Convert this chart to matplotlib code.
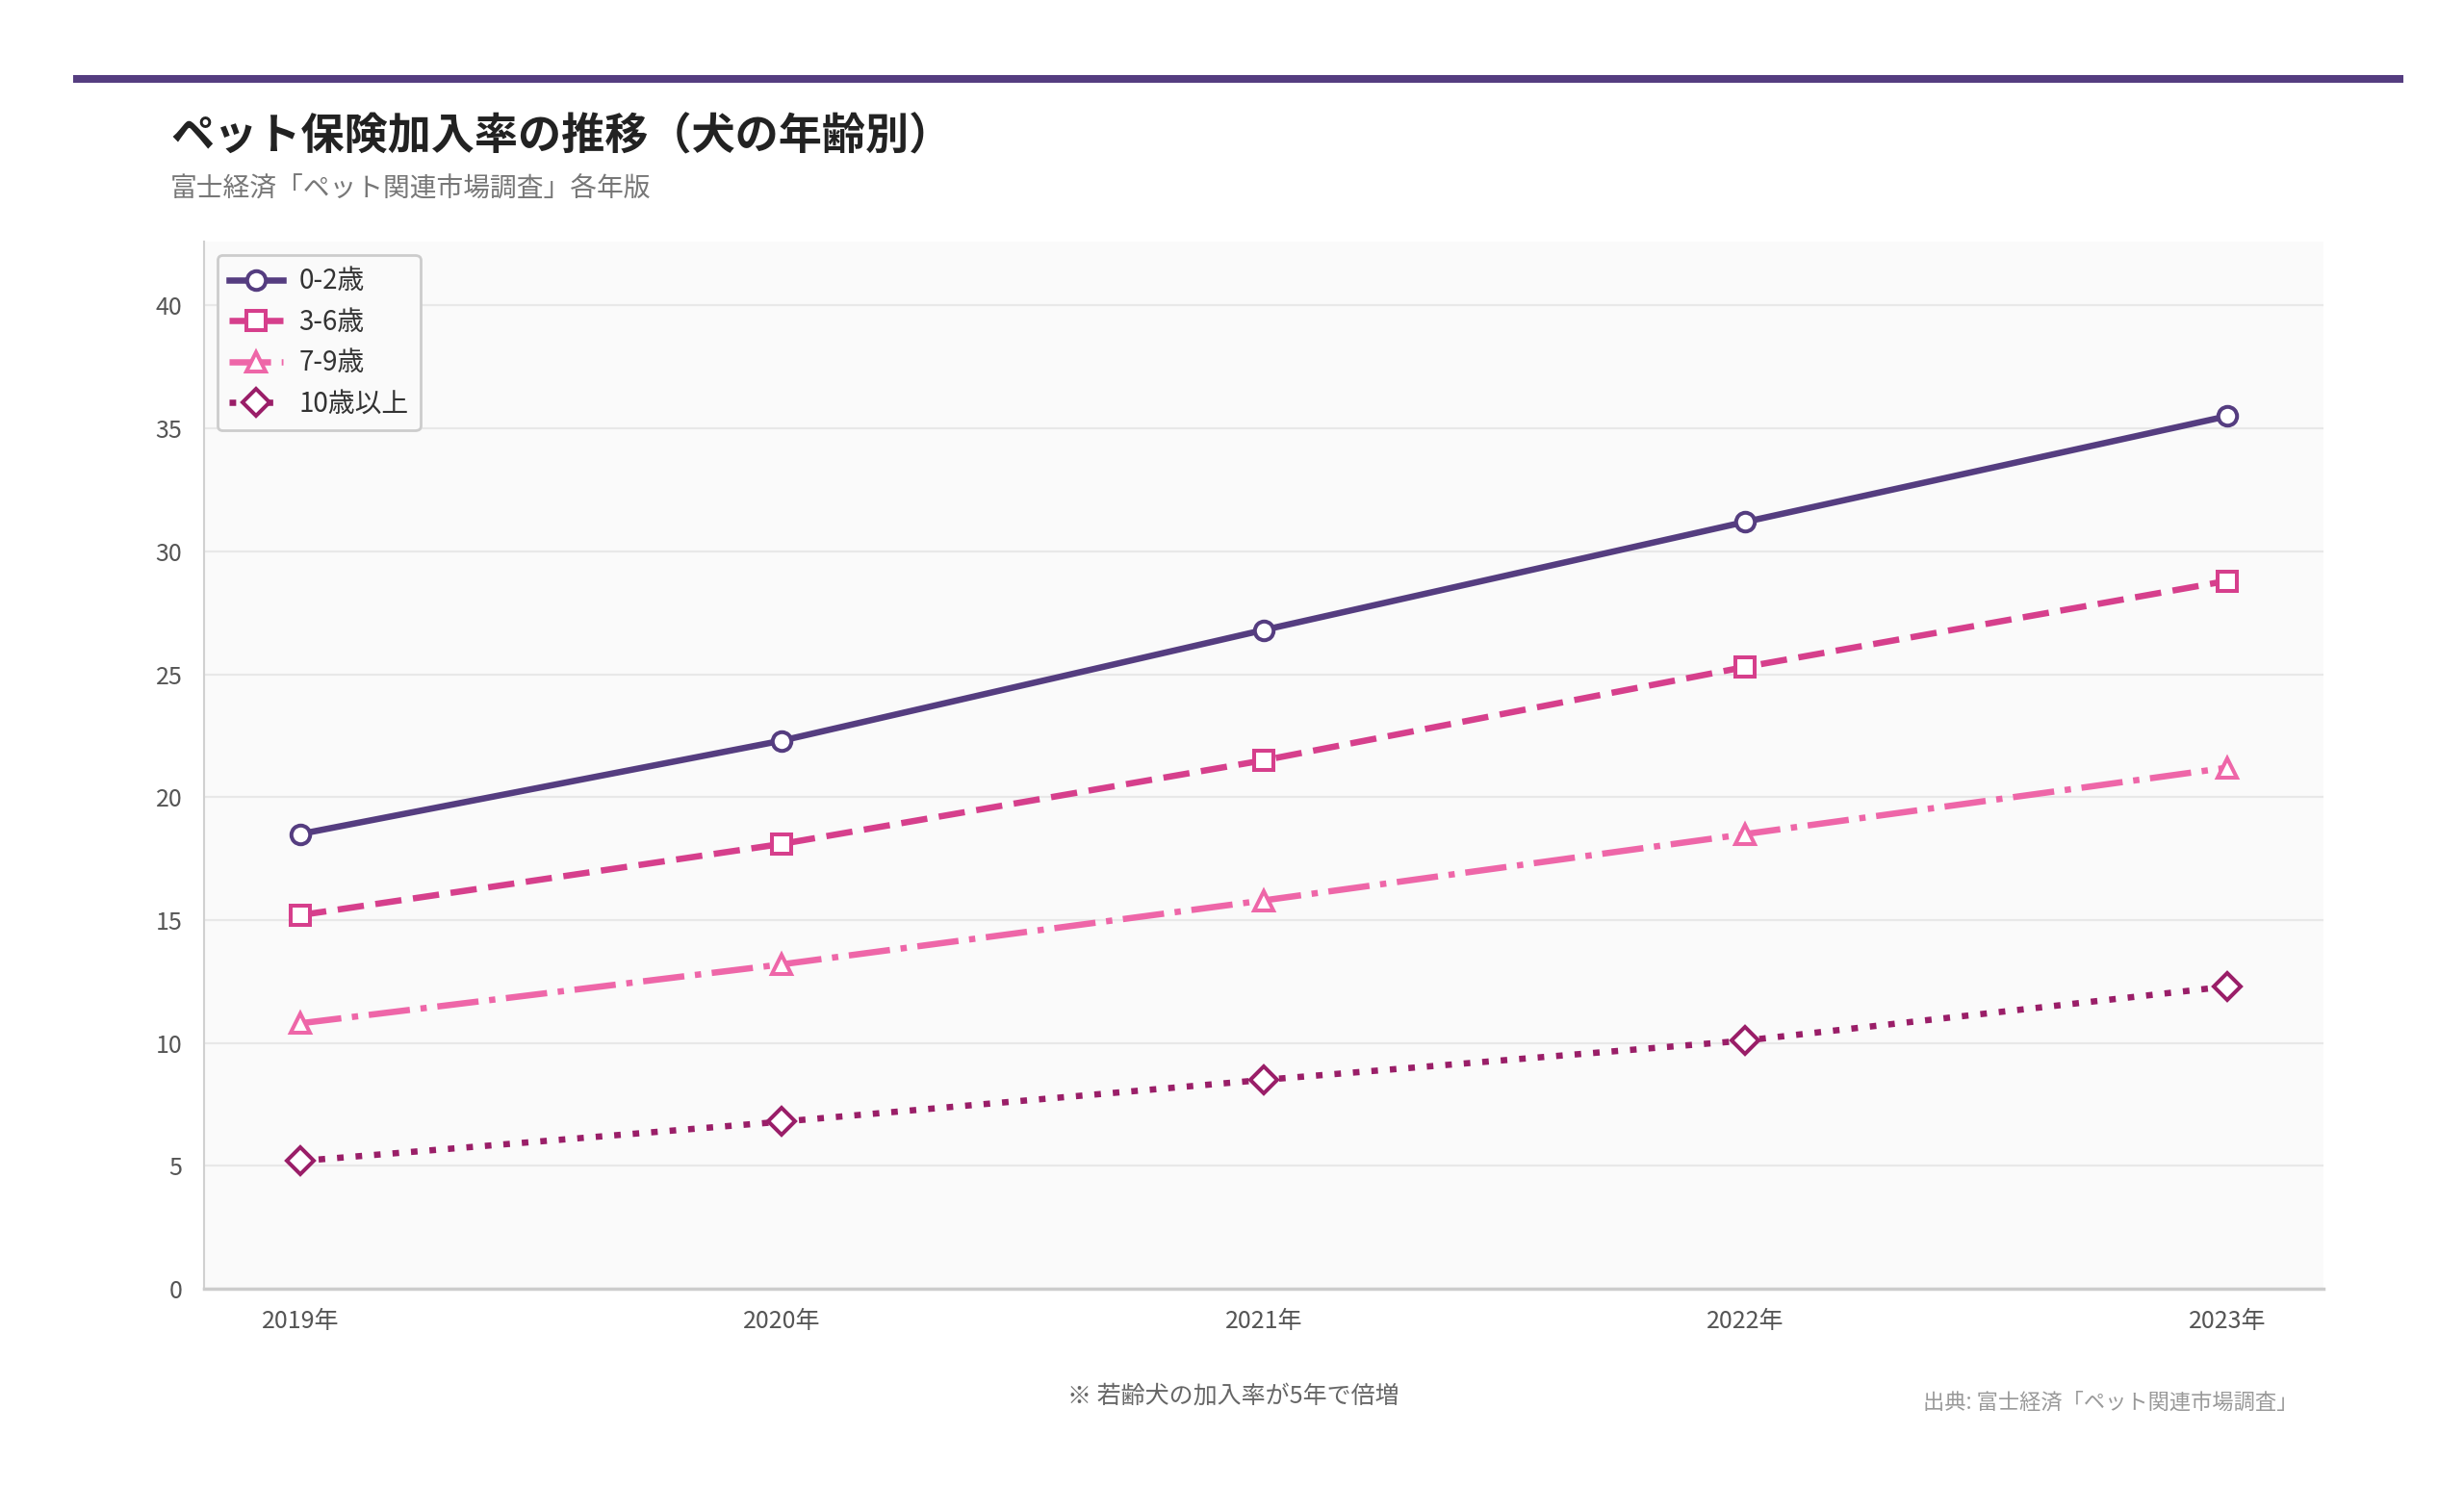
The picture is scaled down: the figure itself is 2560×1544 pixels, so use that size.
import matplotlib
matplotlib.use('Agg')
import matplotlib.pyplot as plt
from matplotlib.lines import Line2D

plt.rcParams['font.family'] = ['Noto Sans CJK JP', 'DejaVu Sans']

# データ（加入率 %）
years = ['2019年', '2020年', '2021年', '2022年', '2023年']
age_0_2 = [18.5, 22.3, 26.8, 31.2, 35.5]
age_3_6 = [15.2, 18.1, 21.5, 25.3, 28.8]
age_7_9 = [10.8, 13.2, 15.8, 18.5, 21.2]
age_10p = [5.2, 6.8, 8.5, 10.1, 12.3]
labels = ['0-2歳', '3-6歳', '7-9歳', '10歳以上']
yticks = [0, 5, 10, 15, 20, 25, 30, 35, 40]

colors = ['#553D80', '#D63F8C', '#EE66A8', '#9A1E68']
markers = ['o', 's', '^', 'D']
dashes = [None, (4.2, 1.85), (6.6, 1.7, 1.0, 1.7), (1.05, 1.9)]
msizes = [14, 14, 15, 14]

fig = plt.figure(figsize=(25.6, 15.44), dpi=100)
fig.patch.set_facecolor('white')

# 上部の帯
fig.add_artist(Line2D([0.0314, 0.9737], [0.947, 0.947], color='#553D80',
                      linewidth=5.8, transform=fig.transFigure))

fig.text(0.0692, 0.9075, 'ペット保険加入率の推移（犬の年齢別）', fontsize=32.5,
         fontweight='bold', color='#222222', ha='left', va='center')
fig.text(0.0692, 0.8725, '富士経済「ペット関連市場調査」各年版', fontsize=20,
         color='#777777', ha='left', va='center')

ax = fig.add_axes([0.0827, 0.1327, 0.8603, 0.7047])
ax.set_facecolor('#FAFAFA')

x = list(range(len(years)))
series = [age_0_2, age_3_6, age_7_9, age_10p]
for vals, lab, c, m, d, ms in zip(series, labels, colors, markers, dashes, msizes):
    line, = ax.plot(x, vals, color=c, linewidth=4.7, marker=m, markersize=ms,
                    markerfacecolor='white', markeredgecolor=c,
                    markeredgewidth=2.9, label=lab, zorder=3)
    if d is not None:
        line.set_dashes(d)
        line.set_dash_capstyle('butt')

ax.set_xlim(-0.2, len(years) - 1 + 0.2)
ax.set_ylim(0, max(age_0_2) * 1.2)
ax.set_xticks(x)
ax.set_xticklabels(years)
ax.set_yticks(yticks)
ax.tick_params(axis='both', length=0, labelsize=18, colors='#555555')
ax.tick_params(axis='x', pad=15)
ax.tick_params(axis='y', pad=16)
ax.grid(axis='y', color='#E8E8E8', linewidth=1.6, zorder=0)
ax.set_axisbelow(True)
for s in ['top', 'right']:
    ax.spines[s].set_visible(False)
ax.spines['left'].set_color('#D0D0D0')
ax.spines['left'].set_linewidth(1.5)
ax.spines['bottom'].set_color('#CCCCCC')
ax.spines['bottom'].set_linewidth(2.5)

leg = ax.legend(loc='upper left', fontsize=20, frameon=True, fancybox=True,
                handlelength=2.0, labelspacing=0.45, borderpad=0.45,
                handletextpad=0.6, borderaxespad=0.5)
leg.get_frame().set_edgecolor('#CCCCCC')
leg.get_frame().set_linewidth(2.0)
leg.get_frame().set_facecolor('#FAFAFA')
leg.get_frame().set_alpha(1.0)
for t in leg.get_texts():
    t.set_color('#333333')

fig.text(0.5005, 0.0606, '※ 若齢犬の加入率が5年で倍増', fontsize=18,
         color='#666666', ha='center', va='center')
fig.text(0.9327, 0.0563, '出典: 富士経済「ペット関連市場調査」', fontsize=16,
         color='#999999', ha='right', va='center')

fig.savefig('out.png', dpi=100, facecolor='white')
